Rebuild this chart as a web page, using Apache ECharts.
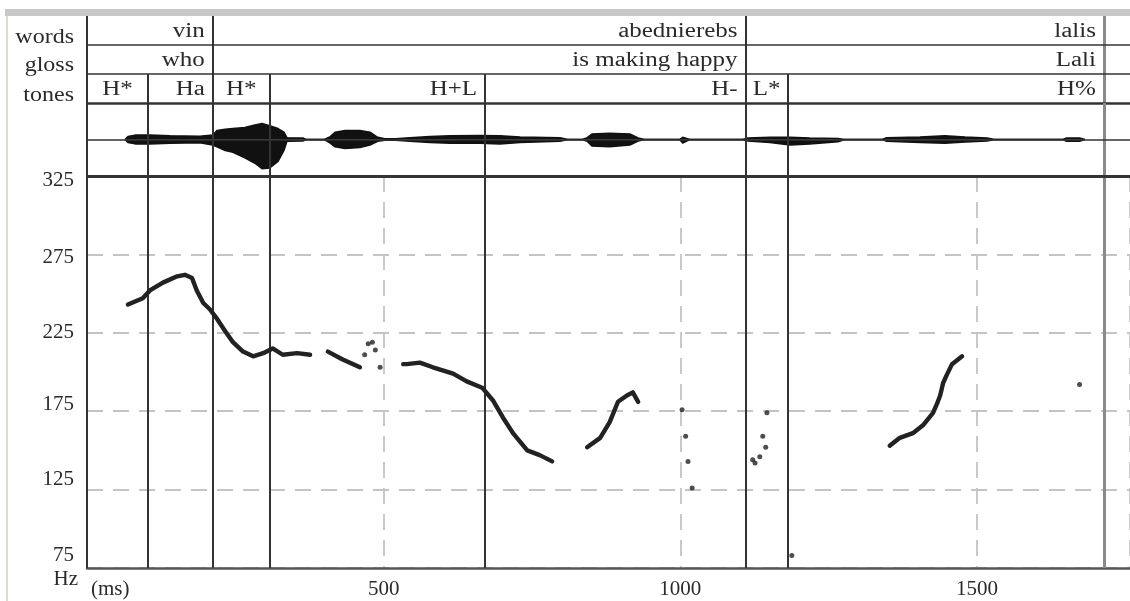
<!DOCTYPE html>
<html>
<head>
    <meta charset="utf-8">
    <title>vin abednierebs lalis - pitch track</title>
    <script src="https://cdn.jsdelivr.net/npm/echarts@6/dist/echarts.min.js"></script>
    <style>
        html, body { margin: 0; padding: 0; background: #fff; }
        #chart { width: 1130px; height: 601px; }
    </style>
</head>
<body>
<div id="chart"></div>
<script type="text/javascript">

    // time axis (ms)
    var xMax = 1758;

    // tiers: labels and interval ends (ms)
    var wordLabels = ['vin', 'abednierebs', 'lalis'];
    var glossLabels = ['who', 'is making happy', 'Lali'];
    var wordEnds = [212, 1110, 1714];
    var toneLabels = ['H*', 'Ha', 'H*', 'H+L', 'H-', 'L*', 'H%'];
    var toneEnds = [103, 212, 308, 671, 1110, 1181, 1714];

    // boundaries (ms)
    var wordBounds = [0, 212, 1110, 1714];
    var toneBounds = [0, 103, 212, 308, 671, 1110, 1181, 1714];

    // waveform envelope (ms, upper and lower amplitude, relative)
    var waveMs   = [64, 69, 81, 106, 140, 190, 212, 219, 233, 246, 266, 283, 295, 308, 322, 332, 337, 364, 369,
                    400, 410, 418, 435, 460, 477, 490, 502, 520, 544, 578, 612, 662, 696, 730, 797, 811,
                    835, 843, 851, 881, 915, 929, 940, 999, 1004, 1016,
                    1105, 1114, 1151, 1185, 1218, 1266, 1277, 1340, 1348, 1404, 1446, 1480, 1517, 1530,
                    1645, 1651, 1673, 1682];
    var waveUp   = [0, 0.08, 0.12, 0.12, 0.1, 0.09, 0.12, 0.25, 0.28, 0.3, 0.33, 0.4, 0.44, 0.38, 0.3, 0.2, 0.05, 0.04, 0,
                    0, 0.08, 0.2, 0.25, 0.25, 0.2, 0.06, 0.02, 0.02, 0.05, 0.08, 0.1, 0.11, 0.1, 0.07, 0.05, 0,
                    0, 0.05, 0.15, 0.17, 0.15, 0.04, 0, 0, 0.06, 0,
                    0, 0.04, 0.06, 0.06, 0.04, 0.03, 0, 0, 0.05, 0.07, 0.1, 0.07, 0.04, 0,
                    0, 0.04, 0.04, 0];
    var waveDown = [0, 0.08, 0.12, 0.12, 0.1, 0.09, 0.15, 0.2, 0.3, 0.35, 0.5, 0.65, 0.8, 0.78, 0.6, 0.3, 0.05, 0.04, 0,
                    0, 0.1, 0.2, 0.25, 0.22, 0.15, 0.05, 0.02, 0.02, 0.05, 0.08, 0.1, 0.1, 0.12, 0.08, 0.05, 0,
                    0, 0.05, 0.18, 0.2, 0.15, 0.04, 0, 0, 0.1, 0,
                    0, 0.04, 0.08, 0.15, 0.12, 0.06, 0, 0, 0.05, 0.08, 0.1, 0.07, 0.04, 0,
                    0, 0.05, 0.05, 0];

    // pitch track (ms, Hz); null = gap
    var pitchMs = [69, 94, 106, 128, 152, 165, 177, 185, 196, 207, 219, 233, 246, 263, 280, 297, 313, 330, 354, 376, null,
                   406, 431, 460, null,
                   533, 539, 561, 583, 617, 640, 666, 684, 701, 718, 742, 763, 784, null,
                   843, 865, 881, 895, 910, 920, 929, null,
                   1353, 1370, 1392, 1409, 1426, 1434, 1438, 1443, 1449, 1458, 1475];
    var pitchHz = [243, 247, 252, 257, 261, 262, 260, 252, 244, 240, 234, 226, 219, 213, 210, 212, 215, 211, 212, 211, null,
                   213, 208, 203, null,
                   205, 205, 206, 203, 199, 194, 190, 182, 171, 161, 150, 147, 143, null,
                   152, 158, 168, 181, 185, 187, 181, null,
                   153, 158, 161, 166, 174, 181, 185, 193, 198, 205, 210];

    // isolated pitch points
    var dotMs = [468, 474, 481, 486, 494, 1003, 1009, 1013, 1020, 1122, 1126, 1134, 1139, 1144, 1146, 1188, 1673];
    var dotHz = [211, 218, 219, 214, 203, 176, 159, 143, 126, 144, 142, 146, 159, 152, 174, 83, 192];

    // axis ticks
    var hzTicks = [75, 325, 50];     // min, max, step
    var msStep = 500;

    var serif = '"Liberation Serif", "DejaVu Serif", serif';
    var ink = '#2a2a2a';
    var lineCol = '#333';

    var myChart = echarts.init(document.getElementById('chart'));

    function solid(w, c) { return { width: w, color: c, type: 'solid' }; }
    function boundStyle(v) {
        return v === 1714 ? solid(3, '#8a8a8a') : solid(2, lineCol);
    }
    function vLine(x, y1, y2) {
        return [{ coord: [x, y1], lineStyle: boundStyle(x) }, { coord: [x, y2] }];
    }

    // tier grid lines
    var tierLines = [];
    wordBounds.forEach(function (v) { tierLines.push(vLine(v, 1, 3)); });
    toneBounds.forEach(function (v) { tierLines.push(vLine(v, 0, 1)); });
    tierLines.push({ yAxis: 2, lineStyle: solid(1.5, lineCol) });
    tierLines.push({ yAxis: 1, lineStyle: solid(1.5, lineCol) });
    tierLines.push({ yAxis: 0, lineStyle: solid(2.5, lineCol) });

    var allBounds = toneBounds.map(function (v) {
        return { xAxis: v, lineStyle: boundStyle(v) };
    });

    // tier text items: [end, start, tierRow, label]
    var tierText = [];
    wordLabels.forEach(function (l, i) {
        tierText.push([wordEnds[i], i === 0 ? 0 : wordEnds[i - 1], 2.5, l]);
        tierText.push([wordEnds[i], i === 0 ? 0 : wordEnds[i - 1], 1.5, glossLabels[i]]);
    });
    toneLabels.forEach(function (l, i) {
        tierText.push([toneEnds[i], i === 0 ? 0 : toneEnds[i - 1], 0.5, l]);
    });

    var pitchData = pitchMs.map(function (t, i) {
        return t === null ? '-' : [t, pitchHz[i]];
    });
    var dotData = dotMs.map(function (t, i) { return [t, dotHz[i]]; });
    var waveUpData = waveMs.map(function (t, i) { return [t, waveUp[i]]; });
    var waveDownData = waveMs.map(function (t, i) { return [t, -waveDown[i]]; });

    // small vertical nudges of the Hz labels, as in the original print
    var hzNudge = { 325: 4, 275: 3, 225: 0, 175: -7, 125: -10, 75: -13 };
    var hzRich = {};
    Object.keys(hzNudge).forEach(function (k) {
        var d = hzNudge[k];
        hzRich['n' + k] = {
            fontFamily: serif, fontSize: 21, color: ink,
            padding: d >= 0 ? [2 * d, 0, 0, 0] : [0, 0, -2 * d, 0]
        };
    });

    var dashed = { show: true, lineStyle: { color: '#c4c4c4', width: 1.8, type: [16, 10] } };
    var mlBase = { silent: true, symbol: ['none', 'none'], label: { show: false }, animation: false };

    myChart.setOption({
        animation: false,
        grid: [
            { left: 87, right: 0, top: 16, height: 87 },
            { left: 87, right: 0, top: 103, height: 73 },
            { left: 87, right: 0, top: 176, bottom: 33 }
        ],
        xAxis: [
            { gridIndex: 0, type: 'value', min: 0, max: xMax, show: false },
            { gridIndex: 1, type: 'value', min: 0, max: xMax, show: false },
            {
                gridIndex: 2, type: 'value', min: 0, max: xMax, interval: msStep,
                axisLine: { show: true, lineStyle: { color: '#555', width: 2.5 } },
                axisTick: { show: false },
                splitLine: dashed,
                axisLabel: {
                    margin: 11, fontFamily: serif, fontSize: 21, color: ink, showMaxLabel: false,
                    formatter: function (v) { return (v === 0 || v % msStep) ? '' : String(v); }
                }
            }
        ],
        yAxis: [
            { gridIndex: 0, type: 'value', min: 0, max: 3, show: false },
            { gridIndex: 1, type: 'value', min: -1, max: 1, show: false },
            {
                gridIndex: 2, type: 'value', min: hzTicks[0], max: hzTicks[1], interval: hzTicks[2],
                axisLine: { show: false },
                axisTick: { show: false },
                splitLine: dashed,
                axisLabel: {
                    margin: 13, fontFamily: serif, fontSize: 21, color: ink, rich: hzRich,
                    formatter: function (v) { return hzNudge[v] !== undefined ? '{n' + v + '|' + v + '}' : String(v); }
                }
            }
        ],
        series: [
            {
                type: 'line', xAxisIndex: 0, yAxisIndex: 0, data: [],
                markLine: Object.assign({ data: tierLines }, mlBase)
            },
            {
                type: 'custom', xAxisIndex: 0, yAxisIndex: 0, data: tierText, silent: true,
                renderItem: function (params, api) {
                    var end = api.value(0), start = api.value(1), row = api.value(2);
                    var label = tierText[params.dataIndex][3];
                    var starred = label.indexOf('*') >= 0;
                    var p = api.coord([end, row]);
                    var q = api.coord([start, row]);
                    var x = starred ? (p[0] + q[0]) / 2 : p[0] - 8;
                    return {
                        type: 'text', x: x, y: p[1] + 1, scaleX: 1.25,
                        style: {
                            text: label, fill: ink, fontFamily: serif, fontSize: 20,
                            align: starred ? 'center' : 'right', verticalAlign: 'middle'
                        }
                    };
                }
            },
            {
                type: 'line', xAxisIndex: 1, yAxisIndex: 1, data: waveUpData,
                showSymbol: false, lineStyle: { width: 1.5, color: '#111' }, areaStyle: { color: '#111', opacity: 1 },
                markLine: Object.assign({
                    data: allBounds.concat([{ yAxis: 0, lineStyle: solid(1.5, lineCol) }])
                }, mlBase)
            },
            {
                type: 'line', xAxisIndex: 1, yAxisIndex: 1, data: waveDownData,
                showSymbol: false, lineStyle: { width: 1.5, color: '#111' }, areaStyle: { color: '#111', opacity: 1 }
            },
            {
                type: 'line', xAxisIndex: 2, yAxisIndex: 2, data: pitchData, z: 5,
                showSymbol: false, connectNulls: false,
                lineStyle: { width: 4.4, color: '#222', cap: 'round', join: 'round' },
                markLine: Object.assign({
                    data: allBounds.concat([{ yAxis: 325, lineStyle: solid(3, lineCol) }])
                }, mlBase)
            },
            {
                type: 'scatter', xAxisIndex: 2, yAxisIndex: 2, data: dotData, z: 5,
                symbolSize: 5, itemStyle: { color: '#222' }
            }
        ],
        graphic: [
            { type: 'rect', shape: { x: 5, y: 9, width: 1125, height: 7 }, style: { fill: '#c9c9c9' }, silent: true },
            { type: 'rect', shape: { x: 6, y: 16, width: 2, height: 585 }, style: { fill: '#dedbd5' }, silent: true },
            { type: 'text', x: 74, y: 38, scaleX: 1.2, style: { text: 'words', fill: ink, fontFamily: serif, fontSize: 20, align: 'right', verticalAlign: 'middle' } },
            { type: 'text', x: 74, y: 66, scaleX: 1.2, style: { text: 'gloss', fill: ink, fontFamily: serif, fontSize: 20, align: 'right', verticalAlign: 'middle' } },
            { type: 'text', x: 74, y: 96, scaleX: 1.2, style: { text: 'tones', fill: ink, fontFamily: serif, fontSize: 20, align: 'right', verticalAlign: 'middle' } },
            { type: 'text', x: 78, y: 579, style: { text: 'Hz', fill: ink, fontFamily: serif, fontSize: 21, align: 'right', verticalAlign: 'middle' } },
            { type: 'text', x: 91, y: 589, style: { text: '(ms)', fill: ink, fontFamily: serif, fontSize: 21, align: 'left', verticalAlign: 'middle' } }
        ]
    });

</script>
</body>
</html>
